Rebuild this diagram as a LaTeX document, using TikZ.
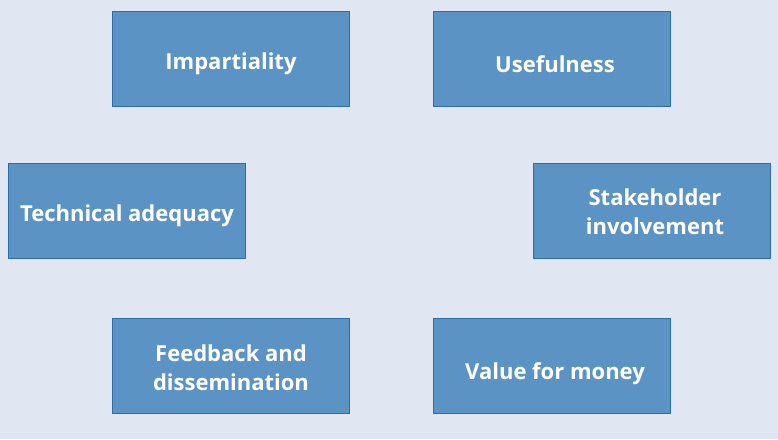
\documentclass[tikz,border=0pt]{standalone}
\usepackage{fontspec}
\setmainfont{Open Sans}
\definecolor{bgc}{HTML}{E1E7F2}
\definecolor{boxfill}{HTML}{5B93C4}
\definecolor{boxline}{HTML}{2A6DA8}
\begin{document}
\begin{tikzpicture}[x=1pt,y=-1pt,
  cbox/.style={draw=boxline,line width=1pt,fill=boxfill,minimum width=237pt,minimum height=95pt,
    inner sep=0pt},
  lbl/.style={text=white,font=\fontsize{22}{29}\selectfont\bfseries,align=center,inner sep=0pt}]
\fill[bgc] (0,0) rectangle (778,439);
\useasboundingbox (0,0) rectangle (778,439);
\node[cbox] (imp) at (231,59) {};
\node[cbox] (use) at (552,59) {};
\node[cbox] (tech) at (127,211) {};
\node[cbox] (stake) at (652,211) {};
\node[cbox] (feed) at (231,366) {};
\node[cbox] (val) at (552,366) {};
\node[lbl] at ([yshift=-5pt]imp.center) {Impartiality};
\node[lbl] at ([xshift=3pt,yshift=-5pt]use.center) {Usefulness};
\node[lbl] at ([yshift=-5pt]tech.center) {Technical adequacy};
\node[lbl] at ([xshift=3pt,yshift=-1pt]stake.center) {Stakeholder\\involvement};
\node[lbl] at ([yshift=-2pt]feed.center) {Feedback and\\dissemination};
\node[lbl] at ([xshift=3pt,yshift=-8pt]val.center) {Value for money};
\end{tikzpicture}
\end{document}
